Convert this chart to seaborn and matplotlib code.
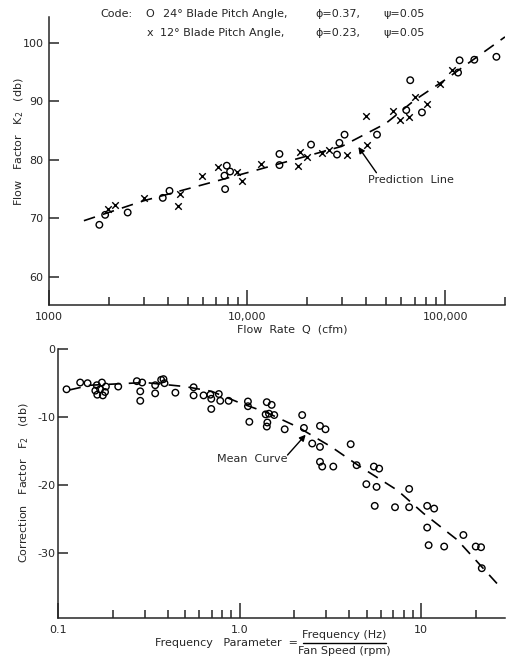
import matplotlib
matplotlib.use("Agg")
import matplotlib.pyplot as plt
from matplotlib.lines import Line2D
from matplotlib.ticker import FixedLocator, NullFormatter, FixedFormatter
import pandas as pd
import seaborn as sns

# ---------------- data: top panel (Flow factor) ----------------
q_circle = [1795, 1920, 2495, 3750, 4055, 7680, 7740, 7890, 8200, 14550, 14550,
            21000, 28400, 29200, 31000, 45200, 63500, 66500, 76200, 115900,
            118000, 140000, 181000]
k2_circle = [68.9, 70.6, 71.0, 73.5, 74.7, 77.3, 75.0, 79.0, 78.0, 81.0, 79.1,
             82.6, 80.9, 82.9, 84.3, 84.3, 88.5, 93.6, 88.1, 94.9,
             97.0, 97.1, 97.6]
q_cross = [1995, 2155, 3025, 4500, 4595, 5945, 7160, 8870, 9390, 11730, 17960,
           18370, 20000, 23800, 26000, 31800, 39900, 40200, 54400, 58800, 65300,
           70000, 80800, 93500, 108000]
k2_cross = [71.6, 72.3, 73.5, 72.1, 74.1, 77.3, 78.8, 78.0, 76.3, 79.3, 78.9,
            81.4, 80.4, 81.2, 81.6, 80.9, 87.5, 82.6, 88.3, 86.8, 87.4,
            90.7, 89.6, 93.0, 95.4]
q_line = [1500, 3000, 10000, 30000, 50000, 70000, 100000, 200000]
k2_line = [69.6, 73.0, 77.8, 82.3, 86.2, 90.2, 93.7, 101.0]

# ---------------- data: bottom panel (Correction factor) ----------------
f_pts = [0.111, 0.132, 0.145, 0.163, 0.174, 0.183, 0.160, 0.170, 0.181, 0.164,
         0.176, 0.214, 0.271, 0.290, 0.283, 0.283, 0.342, 0.342, 0.369, 0.380,
         0.385, 0.442, 0.557, 0.557, 0.632, 0.689, 0.697, 0.767, 0.781, 0.697,
         0.869, 1.11, 1.11, 1.13, 1.41, 1.50, 1.39, 1.45, 1.55, 1.42,
         1.41, 1.77, 2.21, 2.26, 2.77, 2.97, 2.51, 2.77, 2.77, 2.85,
         3.28, 4.09, 4.41, 5.49, 5.87, 4.99, 5.68, 8.59, 5.55, 7.18,
         8.59, 10.8, 11.8, 10.8, 17.1, 11.0, 13.4, 20.0, 21.4, 21.6]
f2_pts = [-5.9, -4.9, -5.0, -5.3, -4.9, -5.5, -6.1, -5.9, -6.3, -6.7,
          -6.8, -5.5, -4.7, -4.9, -6.2, -7.6, -5.3, -6.5, -4.5, -4.4,
          -5.0, -6.4, -5.6, -6.8, -6.8, -6.7, -7.3, -6.6, -7.6, -8.8,
          -7.6, -7.7, -8.4, -10.7, -7.8, -8.2, -9.6, -9.5, -9.7, -10.8,
          -11.4, -11.8, -9.7, -11.6, -11.3, -11.8, -13.9, -14.4, -16.6, -17.3,
          -17.3, -14.0, -17.1, -17.3, -17.6, -19.9, -20.3, -20.6, -23.1, -23.3,
          -23.3, -23.1, -23.5, -26.3, -27.4, -28.9, -29.1, -29.1, -29.2, -32.3]
f_curve = [0.115, 0.15, 0.3, 0.5, 0.7, 1.0, 1.4, 2.1, 3.2, 4.6, 7.4, 10.3, 15.8, 26.7]
f2_curve = [-6.0, -5.3, -4.9, -5.5, -6.2, -7.9, -9.3, -11.5, -14.4, -17.3, -20.8,
            -24.2, -28.1, -34.8]

top_xticks = [1000, 10000, 100000]
top_xticklabels = ["1000", "10,000", "100,000"]
top_yticks = [60, 70, 80, 90, 100]
bot_xticks = [0.1, 1.0, 10]
bot_xticklabels = ["0.1", "1.0", "10"]
bot_yticks = [0, -10, -20, -30]

# ---------------- figure ----------------
sns.set_style("ticks")
plt.rcParams['font.family'] = ['DejaVu Sans']
plt.rcParams['axes.unicode_minus'] = False
W, H = 512, 659
fig = plt.figure(figsize=(W / 100, H / 100), dpi=100)


def fx(px):
    return px / W


def fy(py):
    return 1 - py / H


FS = 8
LW = 1.1
dash = (0, (7, 5))
mk = dict(s=22, facecolor='none', edgecolor='black', linewidth=1.0, zorder=3)

# ---- top axes ----
ax1 = fig.add_axes([fx(49), fy(305), fx(505) - fx(49), fy(17) - fy(305)])
df_c = pd.DataFrame({"Q": q_circle, "K2": k2_circle})
df_x = pd.DataFrame({"Q": q_cross, "K2": k2_cross})
df_l = pd.DataFrame({"Q": q_line, "K2": k2_line})
sns.lineplot(data=df_l, x="Q", y="K2", ax=ax1, color='black', lw=1.2,
             linestyle=dash, sort=False, estimator=None)
sns.scatterplot(data=df_c, x="Q", y="K2", ax=ax1, marker='o', **mk)
sns.scatterplot(data=df_x, x="Q", y="K2", ax=ax1, marker='x', s=22,
                color='black', linewidth=1.0, zorder=3)
ax1.set_xscale('log')
ax1.set_xlim(1000, 200000)
ax1.set_ylim(55.2, 104.4)
ax1.xaxis.set_major_locator(FixedLocator(top_xticks))
ax1.xaxis.set_major_formatter(FixedFormatter(top_xticklabels))
ax1.xaxis.set_minor_locator(FixedLocator(
    [m * 1000 for m in range(2, 10)] + [m * 10000 for m in range(2, 10)] + [200000]))
ax1.xaxis.set_minor_formatter(NullFormatter())
ax1.set_yticks(top_yticks)
ax1.set_xlabel("")
ax1.set_ylabel("")
ax1.annotate("", xy=(36400, 82.2), xytext=(44900, 77.8),
             arrowprops=dict(arrowstyle='-|>', color='black', lw=1.0,
                             mutation_scale=9, shrinkA=0, shrinkB=0))
ax1.text(67300, 76.6, "Prediction  Line", ha='center', va='center', fontsize=FS)

# ---- bottom axes ----
ax2 = fig.add_axes([fx(58.3), fy(617.7), fx(505) - fx(58.3), fy(349.3) - fy(617.7)])
df_p = pd.DataFrame({"F": f_pts, "F2": f2_pts})
df_m = pd.DataFrame({"F": f_curve, "F2": f2_curve})
sns.lineplot(data=df_m, x="F", y="F2", ax=ax2, color='black', lw=1.2,
             linestyle=dash, sort=False, estimator=None)
sns.scatterplot(data=df_p, x="F", y="F2", ax=ax2, marker='o', **mk)
ax2.set_xscale('log')
ax2.set_xlim(0.1, 29)
ax2.set_ylim(-39.6, 0)
ax2.xaxis.set_major_locator(FixedLocator(bot_xticks))
ax2.xaxis.set_major_formatter(FixedFormatter(bot_xticklabels))
ax2.xaxis.set_minor_locator(FixedLocator(
    [m / 10 for m in range(2, 10)] + [float(m) for m in range(2, 10)] + [20.0]))
ax2.xaxis.set_minor_formatter(NullFormatter())
ax2.set_yticks(bot_yticks)
ax2.set_xlabel("")
ax2.set_ylabel("")
ax2.annotate("", xy=(2.31, -12.6), xytext=(1.835, -15.6),
             arrowprops=dict(arrowstyle='-|>', color='black', lw=1.0,
                             mutation_scale=9, shrinkA=0, shrinkB=0))
ax2.text(1.168, -16.2, "Mean  Curve", ha='center', va='center', fontsize=FS)

for ax, ypad in ((ax1, 4), (ax2, 2)):
    sns.despine(ax=ax)
    for s in ("left", "bottom"):
        ax.spines[s].set_linewidth(LW)
    ax.tick_params(axis='x', which='major', direction='in', length=11, width=LW,
                   labelsize=FS, pad=5)
    ax.tick_params(axis='x', which='minor', direction='in', length=6, width=LW)
    ax.tick_params(axis='y', which='major', direction='in', length=7, width=LW,
                   labelsize=FS, pad=ypad)

# ---- texts ----
fig.text(fx(100), fy(14), "Code:", fontsize=FS, va='center', ha='left')
fig.text(fx(150), fy(14), "O", fontsize=FS, va='center', ha='center')
fig.text(fx(163), fy(14), "24° Blade Pitch Angle,", fontsize=FS, va='center', ha='left')
fig.text(fx(315), fy(14), "ϕ=0.37,", fontsize=FS, va='center', ha='left')
fig.text(fx(383), fy(14), "ψ=0.05", fontsize=FS, va='center', ha='left')
fig.text(fx(150), fy(33), "x", fontsize=FS, va='center', ha='center')
fig.text(fx(160), fy(33), "12° Blade Pitch Angle,", fontsize=FS, va='center', ha='left')
fig.text(fx(315), fy(33), "ϕ=0.23,", fontsize=FS, va='center', ha='left')
fig.text(fx(383), fy(33), "ψ=0.05", fontsize=FS, va='center', ha='left')

fig.text(fx(19), fy(142), "Flow   Factor   K$_2$   (db)", rotation=90,
         fontsize=FS, va='center', ha='center')
fig.text(fx(292), fy(330), "Flow  Rate  Q  (cfm)", fontsize=FS, va='center', ha='center')

fig.text(fx(24), fy(483), "Correction   Factor   F$_2$   (db)", rotation=90,
         fontsize=FS, va='center', ha='center')
fig.text(fx(298), fy(643), "Frequency   Parameter  =", fontsize=FS, va='center', ha='right')
fig.text(fx(344), fy(635), "Frequency (Hz)", fontsize=FS, va='center', ha='center')
fig.text(fx(344), fy(651), "Fan Speed (rpm)", fontsize=FS, va='center', ha='center')
fig.add_artist(Line2D([fx(303), fx(386)], [fy(643), fy(643)], color='black', lw=1.0))

fig.savefig("out.png", dpi=100, facecolor='white')
